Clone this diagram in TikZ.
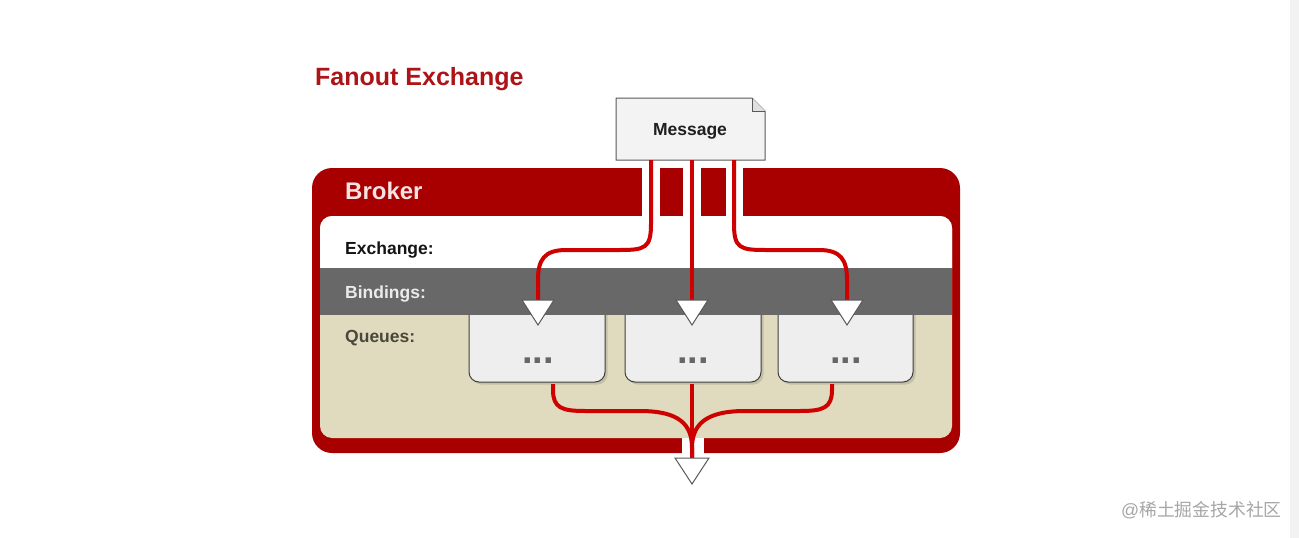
\documentclass[tikz,border=0pt]{standalone}
\usepackage{fontspec}
\setmainfont{Liberation Sans}
\newfontfamily\cjkfont{Noto Sans CJK SC}
\definecolor{titlered}{RGB}{172,20,24}
\definecolor{brokerred}{RGB}{168,0,0}
\definecolor{flowred}{RGB}{206,0,0}
\definecolor{beige}{RGB}{224,219,190}
\definecolor{bandgray}{RGB}{104,104,104}
\definecolor{boxfill}{RGB}{238,238,238}
\definecolor{msgfill}{RGB}{243,243,243}
\definecolor{queuetext}{RGB}{74,72,58}
\definecolor{shadowc}{RGB}{196,191,166}
\begin{document}
\begin{tikzpicture}[x=1pt,y=-1pt,
  lbl/.style={anchor=base west,inner sep=0pt,font=\bfseries\fontsize{17.5}{20}\selectfont},
  flow/.style={draw=flowred,line width=4pt},
  tri/.style={draw=black!65,fill=white,line width=1pt,line join=miter},
  qbox/.style={draw=black!75,fill=boxfill,line width=1pt,rounded corners=10pt},
  qshadow/.style={fill=shadowc,rounded corners=10pt},
  dots/.style={inner sep=0pt,text=black!60,font=\bfseries\fontsize{38}{40}\selectfont,anchor=base},
  gap/.style={fill=white,draw=none}]
\useasboundingbox (0,0) rectangle (1299,538);
\fill[white] (0,0) rectangle (1299,538);
\fill[black!5] (1290,0) rectangle (1299,538);
% title
\node[anchor=base west,inner sep=0pt,text=titlered,font=\bfseries\fontsize{25}{28}\selectfont] (title) at (315,85) {Fanout Exchange};
% broker
\fill[brokerred,rounded corners=20pt] (312,168) rectangle (960,453);
\fill[beige,rounded corners=12pt] (320,216) rectangle (952,438);
\fill[white,rounded corners=12pt] (320,216) -- (952,216) -- (952,280) -- (320,280) -- cycle;
\node[anchor=base west,inner sep=0pt,text={rgb,255:red,245;green,226;blue,226},font=\bfseries\fontsize{24}{28}\selectfont] (broker) at (345,199) {Broker};
% gaps in the broker border
\fill[gap] (642,166) rectangle (660,216);
\fill[gap] (683,166) rectangle (701,216);
\fill[gap] (726,166) rectangle (743,216);
\fill[gap] (682,438) rectangle (704,455);
% queues
\path[qshadow] (471.5,300) rectangle (607.5,384.5);
\path[qshadow] (627.5,300) rectangle (763.5,384.5);
\path[qshadow] (780.5,300) rectangle (915.5,384.5);
\path[qbox] (469,298) rectangle (605,382);
\path[qbox] (625,298) rectangle (761,382);
\path[qbox] (778,298) rectangle (913,382);
\node[dots] (q1) at (538,363) {...};
\node[dots] (q2) at (693,363) {...};
\node[dots] (q3) at (846,363) {...};
% bindings band
\fill[bandgray] (320,268) rectangle (952,315);
% labels
\node[lbl,text=black!92] (exch) at (345,254) {Exchange:};
\node[lbl,text=black!8] (bind) at (345,298) {Bindings:};
\node[lbl,text=queuetext] (queues) at (345,342) {Queues:};
% message
\node[draw=none,minimum width=149pt,minimum height=62pt,inner sep=0pt] (msg) at (690.5,129) {};
\draw[fill=msgfill,draw=black!65,line width=1pt,line join=miter] (616,98) -- (752,98) -- (765,111) -- (765,160) -- (616,160) -- cycle;
\draw[draw=black!65,line width=0.8pt,fill=black!12] (752,98) -- (752,111) -- (765,111);
\node[anchor=base,inner sep=0pt,font=\bfseries\fontsize{17.5}{20}\selectfont,text=black!88] (msgtext) at (690,135) {Message};
% connector coordinates
\coordinate (m1) at (651,160);
\coordinate (m2) at (692,160);
\coordinate (m3) at (734,160);
\coordinate (a1) at (538,300);
\coordinate (a2) at (692,300);
\coordinate (a3) at (847,300);
\coordinate (b1) at (553,384);
\coordinate (b2) at (692,384);
\coordinate (b3) at (832,384);
\coordinate (out) at (692,458);
% flows from the message
\draw[flow] (m1) -- ++(0,64) .. controls +(0,24) and (645,250) .. (620,250) -- (566,250) .. controls (544,250) and (538,260) .. (538,280) -- (a1);
\draw[flow] (m2) -- (a2);
\draw[flow] (m3) -- ++(0,64) .. controls +(0,24) and (740,250) .. (765,250) -- (819,250) .. controls (841,250) and (847,260) .. (847,280) -- (a3);
% flows out of the queues
\draw[flow] (b1) -- ++(0,6) .. controls (553,408) and (562,411) .. (585,411) -- (640,411) .. controls (680,411) and (692,425) .. (692,448) -- (out);
\draw[flow] (b2) -- (out);
\draw[flow] (b3) -- ++(0,6) .. controls (832,408) and (823,411) .. (800,411) -- (745,411) .. controls (705,411) and (692,425) .. (692,448) -- (out);
% arrow heads
\draw[tri] (a1) ++(-16,0) -- ++(32,0) -- ++(-16,25) -- cycle;
\draw[tri] (a2) ++(-16,0) -- ++(32,0) -- ++(-16,25) -- cycle;
\draw[tri] (a3) ++(-16,0) -- ++(32,0) -- ++(-16,25) -- cycle;
\draw[tri] (out) ++(-17,0) -- ++(34,0) -- ++(-17,26) -- cycle;
% watermark
\node[anchor=west,inner sep=0pt,text=black!35,font=\fontsize{17.8}{20}\selectfont] (wm) at (1121,510) {@{\cjkfont 稀土掘金技术社区}};
\end{tikzpicture}
\end{document}
